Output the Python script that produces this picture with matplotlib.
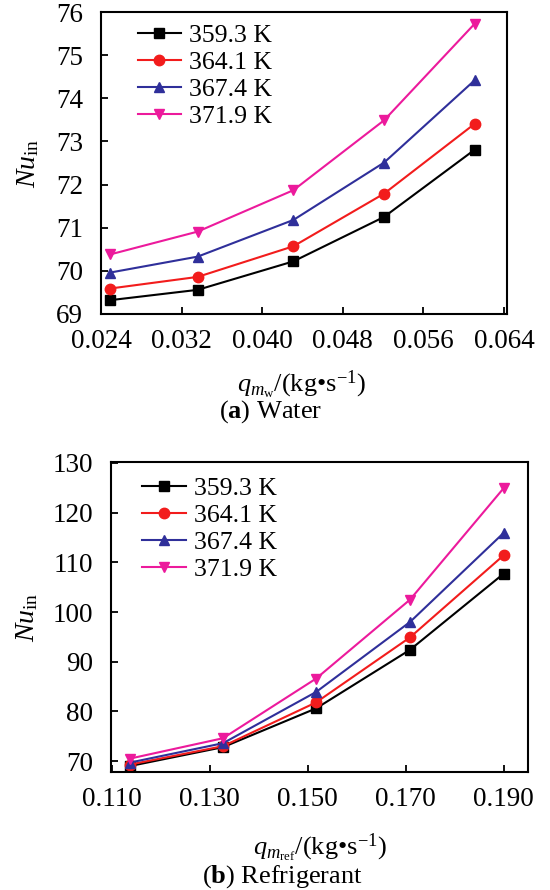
from matplotlib import pyplot as plt

plt.rcParams["font.family"] = ["Liberation Serif", "DejaVu Serif"]
plt.rcParams["mathtext.fontset"] = "custom"
plt.rcParams["mathtext.rm"] = "Liberation Serif"
plt.rcParams["mathtext.it"] = "Liberation Serif:italic"
plt.rcParams["mathtext.bf"] = "Liberation Serif:bold"

temps = ["359.3 K", "364.1 K", "367.4 K", "371.9 K"]
colors = ["#000000", "#f21c1c", "#2f2f9a", "#ec1a9c"]
markers = ["s", "o", "^", "v"]

# (a) water side
qw = [0.0249, 0.0336, 0.0431, 0.0521, 0.0611]
nu_w = [
    [69.32, 69.56, 70.22, 71.25, 72.81],
    [69.59, 69.86, 70.57, 71.79, 73.41],
    [69.96, 70.33, 71.18, 72.51, 74.42],
    [70.38, 70.91, 71.87, 73.49, 75.73],
]

# (b) refrigerant side
qr = [0.1137, 0.1327, 0.1517, 0.1709, 0.1900]
nu_r = [
    [69.0, 72.8, 80.6, 92.4, 107.7],
    [69.3, 73.0, 81.8, 94.9, 111.4],
    [69.7, 73.6, 83.9, 98.0, 115.9],
    [70.5, 74.6, 86.6, 102.5, 124.9],
]

fig = plt.figure(figsize=(5.5, 8.9), dpi=100)
ax1 = fig.add_axes([0.1836, 0.6472, 0.7382, 0.3393])
ax2 = fig.add_axes([0.2018, 0.1326, 0.7582, 0.3483])


def draw(ax, x, ys, leg_anchor):
    for y, c, m, t in zip(ys, colors, markers, temps):
        ax.plot(x, y, color=c, marker=m, markersize=7.5, linewidth=1.5, label=t)
    ax.tick_params(direction="in", length=5, width=1.3, labelsize=19.5,
                   top=False, right=False)
    ax.tick_params(axis="y", pad=13)
    ax.tick_params(axis="x", pad=11)
    for s in ax.spines.values():
        s.set_linewidth(1.5)
    ax.legend(loc="upper left", bbox_to_anchor=leg_anchor, frameon=False,
              fontsize=18.5, handlelength=1.7, handletextpad=0.3,
              labelspacing=0.15, borderaxespad=0, borderpad=0)
    ax.set_ylabel(r"$Nu_{\mathrm{in}}$", fontsize=20)
    ax.yaxis.label.set_va("center")
    ax.xaxis.label.set_va("center")


draw(ax1, qw, nu_w, (0.09, 0.96))
ax1.set_xlim(0.024, 0.0643)
ax1.set_ylim(69, 76)
ax1.set_xticks([0.024, 0.032, 0.040, 0.048, 0.056, 0.064])
ax1.set_xticklabels(["0.024", "0.032", "0.040", "0.048", "0.056", "0.064"])
ax1.set_yticks(range(69, 77))
ax1.set_xlabel(r"$q_{m_{\mathrm{w}}}$/(kg•s$^{-1}$)", fontsize=19)
ax1.xaxis.set_label_coords(0.495, -0.235)
ax1.yaxis.set_label_coords(-0.18, 0.5)

draw(ax2, qr, nu_r, (0.075, 0.95))
ax2.set_xlim(0.1098, 0.195)
ax2.set_ylim(67.8, 130.2)
ax2.set_xticks([0.110, 0.130, 0.150, 0.170, 0.190])
ax2.set_xticklabels(["0.110", "0.130", "0.150", "0.170", "0.190"])
ax2.set_yticks(range(70, 131, 10))
ax2.set_xlabel(r"$q_{m_{\mathrm{ref}}}$/(kg•s$^{-1}$)", fontsize=19)
ax2.xaxis.set_label_coords(0.5, -0.245)
ax2.yaxis.set_label_coords(-0.2, 0.5)

fig.text(271 / 550, 1 - 412 / 890, r"($\mathbf{a}$) Water", ha="center", va="center", fontsize=19)
fig.text(282 / 550, 1 - 877 / 890, r"($\mathbf{b}$) Refrigerant", ha="center", va="center", fontsize=19)

plt.savefig("out.png")
